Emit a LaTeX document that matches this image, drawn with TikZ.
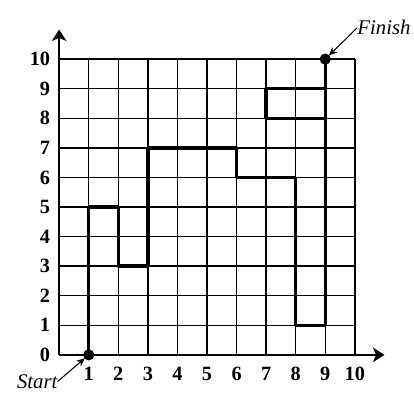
\documentclass[tikz,border=0pt]{standalone}
\usepackage{fontspec}
\setmainfont{Liberation Serif}
\usetikzlibrary{arrows.meta}
\begin{document}
\begin{tikzpicture}[>={Stealth[length=11pt,width=14pt,inset=3pt]},line join=round,font=\fontsize{19.5}{22}\selectfont\bfseries]
\useasboundingbox (-2,-2) rectangle (12,12);
\draw[line width=1.5pt] (0,0) grid (10,10);
\draw[->,line width=2pt] (0,0)--(11,0);
\draw[->,line width=2pt] (0,0)--(0,11);
\foreach \i in {1,...,10} \node (x\i) at (\i,-0.65) {\i};
\foreach \i in {0,...,10} \node[anchor=east,inner sep=0pt] (y\i) at (-0.3,\i) {\i};
\coordinate (start) at (1,0);
\coordinate (finish) at (9,10);
\draw[line width=3.2pt] (start)--(1,5)--(2,5)--(2,3)--(3,3)--(3,7)--(6,7)--(6,6)--(8,6)--(8,1)--(9,1)--(9,8)--(7,8)--(7,9)--(9,9)--(finish);
\draw[line width=3.2pt] (9,8)--(9,9);
\fill (start) circle (0.19) (finish) circle (0.19);
\node[font=\fontsize{20}{24}\selectfont\itshape,anchor=base east,inner sep=0pt] (st) at (-0.05,-1.13) {Start};
\node[font=\fontsize{20}{24}\selectfont\itshape,anchor=base west,inner sep=0pt] (fin) at (10.08,10.82) {Finish};
\draw[->,>={Stealth[length=8pt,width=7pt]},line width=1pt,shorten >=5pt] (st.east)--(start);
\draw[->,>={Stealth[length=8pt,width=7pt]},line width=1pt,shorten >=5pt] (fin.west)--(finish);
\end{tikzpicture}
\end{document}
